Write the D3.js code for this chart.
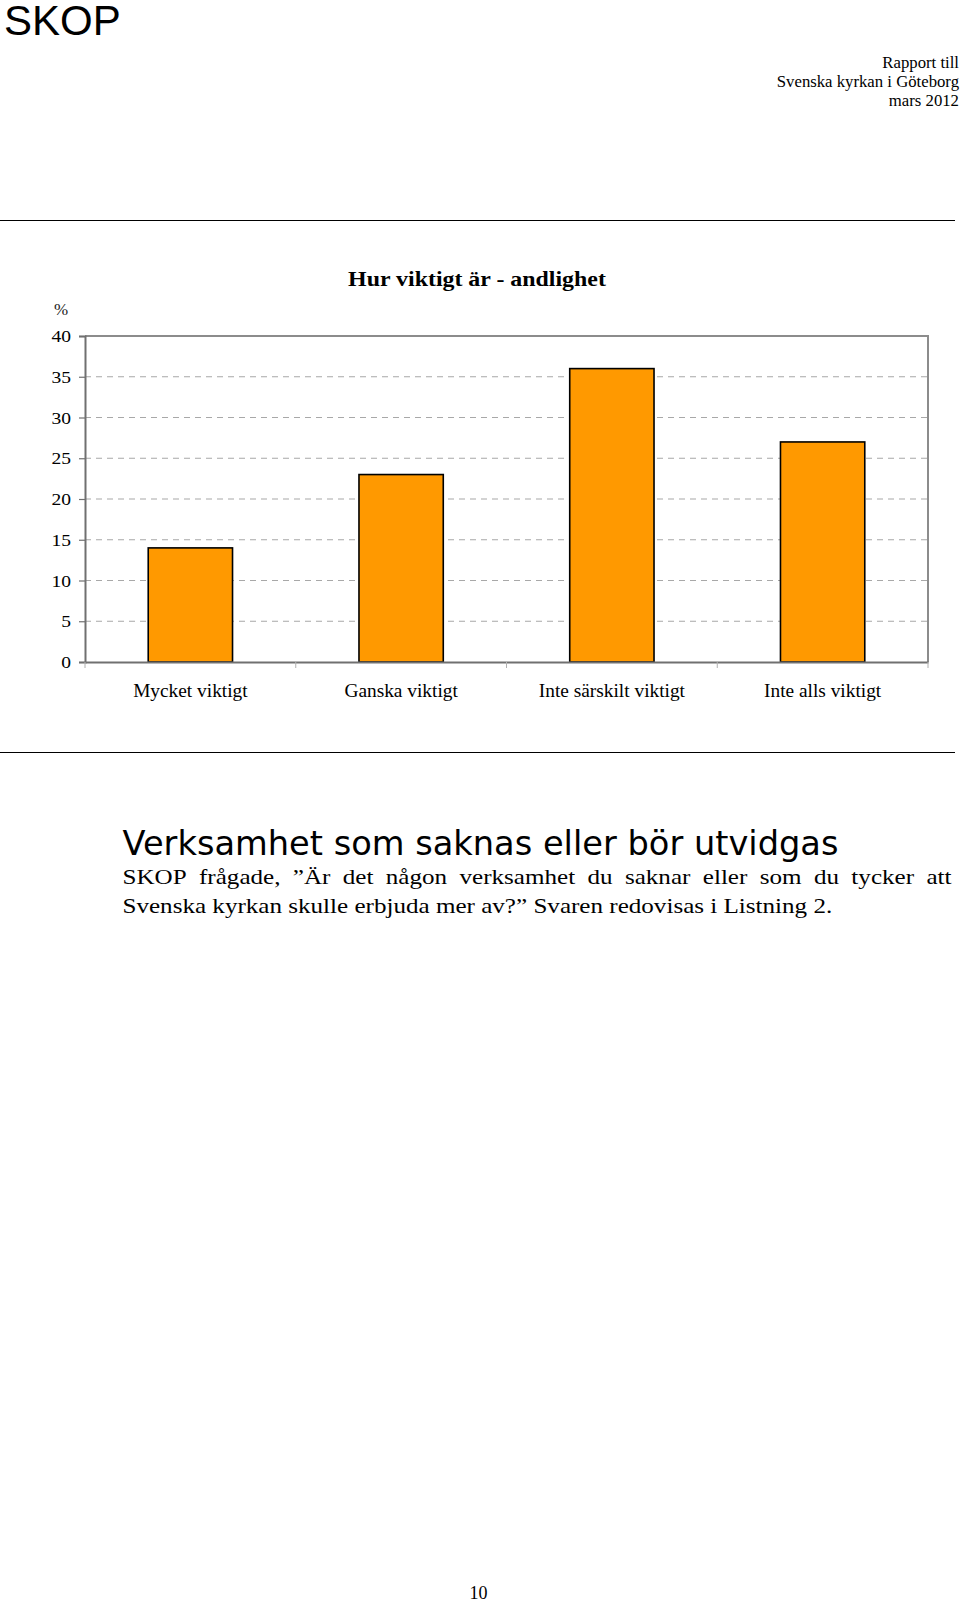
<!DOCTYPE html>
<html><head><meta charset="utf-8">
<script src="https://cdn.jsdelivr.net/npm/d3@7"></script>
<style>body{margin:0;background:#fff}svg{display:block}</style>
</head><body>
<svg id="c" width="960" height="1603"></svg>
<script>
const categories = ["Mycket viktigt", "Ganska viktigt", "Inte särskilt viktigt", "Inte alls viktigt"];
const values = [14, 23, 36, 27];
const yTicks = [0, 5, 10, 15, 20, 25, 30, 35, 40];
const chartTitle = "Hur viktigt är - andlighet";
const yUnit = "%";
const headerLines = ["Rapport till", "Svenska kyrkan i Göteborg", "mars 2012"];
const sectionHeading = "Verksamhet som saknas eller bör utvidgas";
const paraLines = ["SKOP frågade, ”Är det någon verksamhet du saknar eller som du tycker att",
                   "Svenska kyrkan skulle erbjuda mer av?” Svaren redovisas i Listning 2."];

const svg = d3.select("#c");
const serif = "'Liberation Serif', 'Times New Roman', serif";

function stretch(sel, f) {
  sel.each(function () {
    const len = this.getComputedTextLength();
    d3.select(this).attr("textLength", len * f).attr("lengthAdjust", "spacingAndGlyphs");
  });
}

// Page header
svg.append("text").attr("x", 4).attr("y", 35).attr("font-family", "'Liberation Sans', Arial, sans-serif")
  .attr("font-size", 42).attr("fill", "#000").text("SKOP");
const hdr = svg.selectAll("text.hdr").data(headerLines).join("text").attr("class", "hdr")
  .attr("x", 959).attr("y", (d, i) => 67.5 + i * 19).attr("text-anchor", "end")
  .attr("font-family", serif).attr("font-size", 16).text(d => d);
stretch(hdr, 1.045);

// Rules
svg.append("line").attr("x1", 0).attr("x2", 955).attr("y1", 220.5).attr("y2", 220.5).attr("stroke", "#000").attr("stroke-width", 1.2);
svg.append("line").attr("x1", 0).attr("x2", 955).attr("y1", 752.5).attr("y2", 752.5).attr("stroke", "#000").attr("stroke-width", 1.2);

// Chart
const L = 85, R = 928, T = 336, B = 662;
const x = d3.scaleBand().domain(categories).range([L, R]).paddingInner(0.6).paddingOuter(0.3);
const y = d3.scaleLinear().domain([0, 40]).range([B, T]);

const title = svg.append("text").attr("x", 477).attr("y", 285.5).attr("text-anchor", "middle")
  .attr("font-family", serif).attr("font-weight", "bold").attr("font-size", 22).text(chartTitle);
stretch(title, 1.085);
svg.append("text").attr("x", 61).attr("y", 315).attr("text-anchor", "middle")
  .attr("font-family", serif).attr("font-size", 17).attr("fill", "#222").text(yUnit);

// Gridlines
svg.append("g").selectAll("line").data(yTicks.filter(t => t > 0 && t < 40)).join("line")
  .attr("x1", L).attr("x2", R).attr("y1", d => y(d)).attr("y2", d => y(d))
  .attr("stroke", "#a8a8a8").attr("stroke-width", 1.2).attr("stroke-dasharray", "6,5");

// Frame top/right
svg.append("path").attr("d", `M${L},${T}H${R}V${B}`).attr("fill", "none").attr("stroke", "#8c8c8c").attr("stroke-width", 2);

// Bars
svg.append("g").selectAll("rect").data(values).join("rect")
  .attr("x", (d, i) => x(categories[i])).attr("width", x.bandwidth())
  .attr("y", d => y(d)).attr("height", d => y(0) - y(d))
  .attr("fill", "#ff9900").attr("stroke", "#000").attr("stroke-width", 1.6);

// Y axis
const yAxis = d3.axisLeft(y).tickValues(yTicks).tickSize(6).tickPadding(8);
const gy = svg.append("g").attr("transform", `translate(${L},0)`).call(yAxis);
gy.select(".domain").attr("stroke", "#707070").attr("stroke-width", 2);
gy.selectAll(".tick line").attr("stroke", "#707070").attr("stroke-width", 1.2);
gy.selectAll(".tick text").attr("font-family", serif).attr("font-size", 17.3).attr("fill", "#000");
stretch(gy.selectAll(".tick text"), 1.13);

// X axis
const xAxis = d3.axisBottom(x).tickSize(0).tickPadding(22);
const gx = svg.append("g").attr("transform", `translate(0,${B})`).call(xAxis);
gx.select(".domain").attr("stroke", "#707070").attr("stroke-width", 2);
gx.selectAll(".tick text").attr("font-family", serif).attr("font-size", 18).attr("fill", "#000");
stretch(gx.selectAll(".tick text"), 1.075);
// category boundary ticks
const bounds = categories.map(c => x(c) - x.step() * x.paddingOuter()).concat([R]);
svg.append("g").selectAll("line").data(bounds).join("line")
  .attr("x1", d => d).attr("x2", d => d).attr("y1", B).attr("y2", B + 6)
  .attr("stroke", "#b0b0b0").attr("stroke-width", 1);

// Section heading and paragraph
svg.append("text").attr("x", 122.5).attr("y", 855).attr("font-family", "'DejaVu Sans', Verdana, sans-serif")
  .attr("font-size", 33).attr("textLength", 716).attr("lengthAdjust", "spacingAndGlyphs").text(sectionHeading);
const p1 = svg.append("text").attr("x", 122.5).attr("y", 884).attr("font-family", serif).attr("font-size", 22)
  .text(paraLines[0]);
const p1len = p1.node().getComputedTextLength() * 1.14;
p1.attr("textLength", p1len).attr("lengthAdjust", "spacingAndGlyphs");
// justify: stretch word gaps by splitting into words across target width
p1.remove();
const words = paraLines[0].split(" ");
const tmp = svg.append("text").attr("font-family", serif).attr("font-size", 22);
const wlens = words.map(w => { tmp.text(w); return tmp.node().getComputedTextLength() * 1.14; });
tmp.remove();
const totalW = d3.sum(wlens);
const gap = (829 - totalW) / (words.length - 1);
let cx = 122.5;
const wx = wlens.map(l => { const p = cx; cx += l + gap; return p; });
svg.append("g").selectAll("text").data(words).join("text")
  .attr("x", (d, i) => wx[i]).attr("y", 884).attr("font-family", serif).attr("font-size", 22)
  .attr("textLength", (d, i) => wlens[i]).attr("lengthAdjust", "spacingAndGlyphs").text(d => d);
const p2 = svg.append("text").attr("x", 122.5).attr("y", 913).attr("font-family", serif).attr("font-size", 22).text(paraLines[1]);
stretch(p2, 1.14);

// Page number
svg.append("text").attr("x", 478.5).attr("y", 1599).attr("text-anchor", "middle")
  .attr("font-family", serif).attr("font-size", 18).text("10");
</script>
</body></html>
